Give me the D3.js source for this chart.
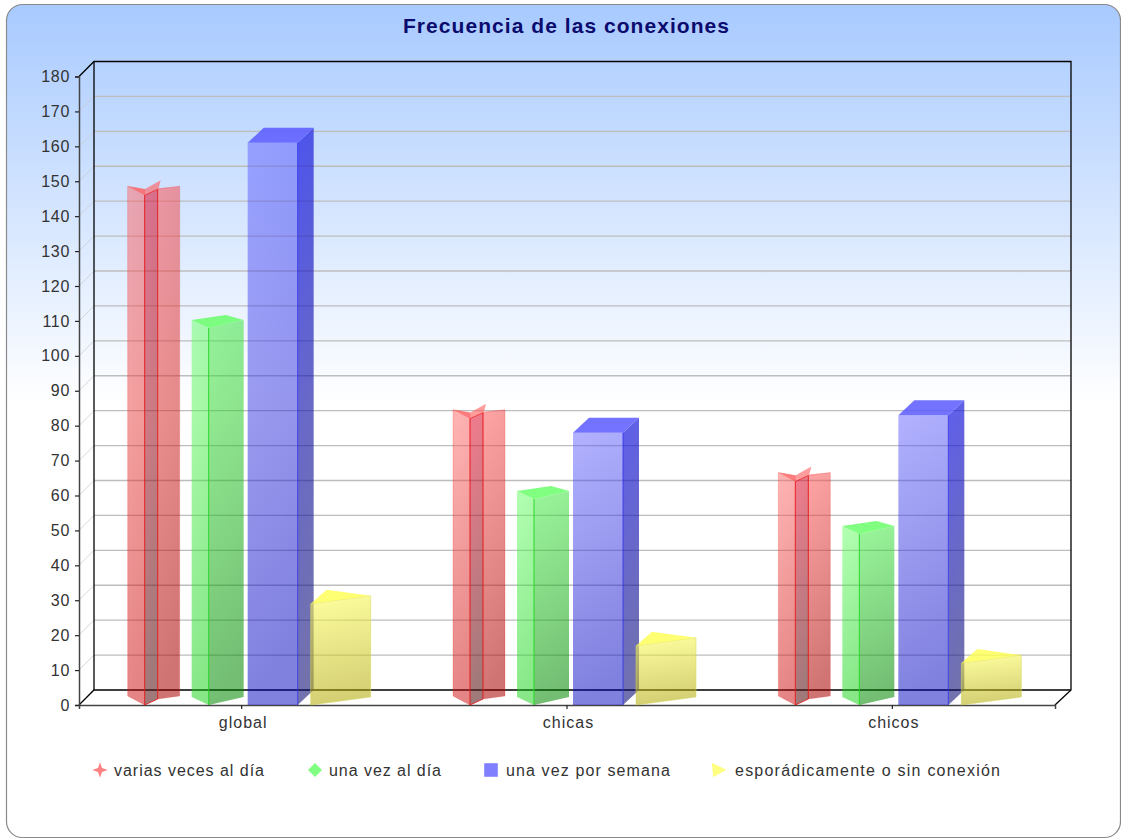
<!DOCTYPE html>
<html><head><meta charset="utf-8">
<script src="https://cdn.jsdelivr.net/npm/d3@7/dist/d3.min.js"></script>
<style>html,body{margin:0;padding:0;background:#fff}svg{display:block}text{font-family:"Liberation Sans",sans-serif}</style>
</head><body><div id="c"></div>
<script>
const categories = ["global", "chicas", "chicos"];
const seriesNames = ["varias veces al día", "una vez al día", "una vez por semana", "esporádicamente o sin conexión"];
const variasVeces = [146, 82, 64];
const unaVezDia = [108, 59, 49];
const unaVezSemana = [161, 78, 83];
const esporadico = [29, 17, 12];
const yTicks = d3.range(0, 181, 10);
const title = "Frecuencia de las conexiones";

const W = 1121, H = 839, DX = 15, DY = -15;
const svg = d3.select("#c").append("svg").attr("width", W).attr("height", H);
const defs = svg.append("defs");

const x = d3.scaleBand().domain(categories).range([79, 1055]);
const y = d3.scaleLinear().domain([0, 180]).range([705, 76.5]);

const bg = defs.append("linearGradient").attr("id", "bg").attr("x1", 0).attr("x2", 0).attr("y1", 0).attr("y2", 1);
bg.append("stop").attr("offset", 0).attr("stop-color", "#a8caff");
bg.append("stop").attr("offset", 0.48).attr("stop-color", "#ffffff");
bg.append("stop").attr("offset", 1).attr("stop-color", "#ffffff");
svg.append("rect").attr("x", 6.5).attr("y", 4.5).attr("width", 1114).attr("height", 833).attr("rx", 16)
  .attr("fill", "url(#bg)").attr("stroke", "#8a8a8a").attr("stroke-width", 1.2);

svg.append("text").attr("x", 403).attr("y", 33).attr("textLength", 326).attr("lengthAdjust", "spacing")
  .attr("font-size", 21).attr("font-weight", "bold").attr("fill", "#0b0b6e").text(title);

// wall
const wall = svg.append("g");
yTicks.slice(1, -1).forEach(t => {
  wall.append("line").attr("x1", x.range()[0]).attr("x2", x.range()[0] + DX).attr("y1", y(t)).attr("y2", y(t) + DY)
    .attr("stroke", "#c8c8c8").attr("stroke-opacity", .7);
  wall.append("line").attr("x1", x.range()[0] + DX).attr("x2", x.range()[1] + DX + 1).attr("y1", y(t) + DY).attr("y2", y(t) + DY)
    .attr("stroke", "#bdbdbd").attr("stroke-width", 1.3);
});
wall.append("path").attr("fill", "none").attr("stroke", "#000").attr("stroke-width", 1.3)
  .attr("d", d3.line()([[79, y(180)], [94, y(180) + DY], [1071, y(180) + DY], [1071, y(0) + DY], [1055, y(0)]]));
wall.append("path").attr("fill", "none").attr("stroke", "#000").attr("stroke-width", 1.3)
  .attr("d", d3.line()([[79, y(0)], [94, y(0) + DY], [1071, y(0) + DY]]));
wall.append("line").attr("x1", 94).attr("x2", 94).attr("y1", y(180) + DY).attr("y2", y(0) + DY).attr("stroke", "#000").attr("stroke-width", 1.3);

// axes
const yAxis = svg.append("g").attr("transform", "translate(79,0)")
  .call(d3.axisLeft(y).tickValues(yTicks).tickSize(4).tickPadding(5));
const xAxis = svg.append("g").attr("transform", "translate(0,705)")
  .call(d3.axisBottom(x).tickSize(4).tickPadding(8));
[yAxis, xAxis].forEach(a => {
  a.selectAll(".domain").attr("stroke", "#444").attr("stroke-width", 1.5);
  a.selectAll(".tick line").attr("stroke", "#222").attr("stroke-width", 1.2);
  a.selectAll("text").attr("font-family", '"Liberation Sans",sans-serif').attr("font-size", 16).attr("fill", "#333").attr("letter-spacing", 0.7);
});
xAxis.selectAll("text").attr("letter-spacing", 1).attr("dx", 1.5);

// gradient helper
function grad(id, c0, a0, c1, a1) {
  const g = defs.append("linearGradient").attr("id", id).attr("x1", 0).attr("y1", 0).attr("x2", 0.12).attr("y2", 1);
  g.append("stop").attr("offset", 0).attr("stop-color", c0).attr("stop-opacity", a0);
  g.append("stop").attr("offset", 1).attr("stop-color", c1).attr("stop-opacity", a1);
  return `url(#${id})`;
}
const fLight = [
  grad("r1", "#ff6a6a", .5, "#cc0a0a", .5), grad("g1", "#66ff66", .5, "#10d010", .5),
  grad("b1", "#6464ff", .5, "#0000be", .5), grad("y1", "#ffff60", .6, "#b0a800", .55)];
const fDark = [
  grad("r2", "#ff5a5a", .55, "#a80000", .55), grad("g2", "#48f048", .55, "#008800", .55),
  grad("b2", "#2020e8", .72, "#141478", .6), grad("y2", "#ffff60", .6, "#a09800", .55)];
const strips = grad("r3", "#e81030", .55, "#602020", .6);
const tops = ["#ff5a5a", "#55ff55", "#5a5aff", "#ffff50"];
const edges = ["#e81818", "#22d822", "#3030e8", "#d8d860"];
const seriesValues = [variasVeces, unaVezDia, unaVezSemana, esporadico];
const offsets = [-114, -50, 6, 69];
const line = d3.line();

const marks = svg.append("g");
function face(g, pts, fill, stroke, opacity) {
  return g.append("path").attr("d", line(pts) + "Z").attr("fill", fill)
    .attr("stroke", stroke || "none").attr("stroke-width", stroke ? 1 : 0).attr("stroke-opacity", opacity == null ? .5 : opacity);
}
function star(g, l, yv, i) {
  const b = y(0);
  const P = (dx, dy, base) => [l + dx, base + dy];
  face(g, [P(0, -9, yv), P(17, -6, yv), P(17, 0, b), P(0, -9, b)], fLight[i], edges[i], .2);
  face(g, [P(30, -6, yv), P(52, -9, yv), P(52, -9, b), P(30, -6, b)], fDark[i], edges[i], .2);
  face(g, [P(17, 0, yv), P(30, -6, yv), P(30, -6, b), P(17, 0, b)], strips, edges[i], .85);
  face(g, [P(0, -9, yv), P(17, -6, yv), P(33, -15, yv), P(31, -7, yv), P(52, -9, yv), P(30, -6, yv), P(17, 0, yv)], tops[i]).attr("fill-opacity", .6);
}
function diamond(g, l, yv, i) {
  const b = y(0);
  face(g, [[l, yv - 8], [l + 17, yv], [l + 17, b], [l, b - 8]], fLight[i]);
  face(g, [[l + 17, yv], [l + 52, yv - 8], [l + 52, b - 8], [l + 17, b]], fDark[i]);
  face(g, [[l, yv - 8], [l + 34, yv - 13], [l + 52, yv - 8], [l + 17, yv]], tops[i]).attr("fill-opacity", .75);
  g.append("line").attr("x1", l + 17).attr("x2", l + 17).attr("y1", yv).attr("y2", b).attr("stroke", edges[i]).attr("stroke-opacity", .95);
}
function box(g, l, yv, i) {
  const b = y(0), w = 50;
  face(g, [[l, yv], [l + w, yv], [l + w, b], [l, b]], fLight[i]);
  face(g, [[l + w, yv], [l + w + 16, yv - 15], [l + w + 16, b - 15], [l + w, b]], fDark[i]);
  face(g, [[l, yv], [l + 16, yv - 15], [l + w + 16, yv - 15], [l + w, yv]], tops[i]).attr("fill-opacity", .85);
  g.append("line").attr("x1", l + w).attr("x2", l + w).attr("y1", yv).attr("y2", b).attr("stroke", edges[i]).attr("stroke-opacity", .8);
}
function tri(g, l, yv, i) {
  const b = y(0);
  face(g, [[l, yv], [l + 60, yv - 8], [l + 60, b - 8], [l, b]], fLight[i], edges[i], .5);
  face(g, [[l, yv], [l + 16, yv - 14], [l + 60, yv - 8]], tops[i]).attr("fill-opacity", .8);
}
const painters = [star, diamond, box, tri];
seriesValues.forEach((vals, i) => {
  vals.forEach((v, j) => {
    const cx = x(categories[j]) + x.bandwidth() / 2;
    painters[i](marks.append("g"), cx + offsets[i], y(v), i);
  });
});

// legend
const legendMarkX = [100, 315, 491, 719], legendTextX = [114, 329, 506, 735], legendTextLen = [150, 112, 164, 265], legendY = 770;
const legendColors = ["#ff8080", "#80ff80", "#8080ff", "#ffff80"];
const sym = [
  d3.symbol().type({ draw(c, s) { const r = Math.sqrt(s) * .92, q = r * .26;
    c.moveTo(0, -r); c.lineTo(q, -q); c.lineTo(r, 0); c.lineTo(q, q); c.lineTo(0, r); c.lineTo(-q, q); c.lineTo(-r, 0); c.lineTo(-q, -q); c.closePath(); } }).size(70),
  d3.symbol().type({ draw(c, s) { const r = Math.sqrt(s) / 1.2; c.moveTo(0, -r); c.lineTo(r, 0); c.lineTo(0, r); c.lineTo(-r, 0); c.closePath(); } }).size(70),
  d3.symbol().type(d3.symbolSquare).size(185),
  d3.symbol().type({ draw(c, s) { const r = Math.sqrt(s) / 1.2; c.moveTo(-r, -r); c.lineTo(r, -r * .05); c.lineTo(-r * .8, r); c.closePath(); } }).size(75)
];
const lg = svg.append("g");
seriesNames.forEach((n, i) => {
  lg.append("path").attr("transform", `translate(${legendMarkX[i]},${legendY})`).attr("d", sym[i]()).attr("fill", legendColors[i]);
  lg.append("text").attr("x", legendTextX[i]).attr("y", legendY + 5.5).attr("font-size", 16)
    .attr("textLength", legendTextLen[i]).attr("lengthAdjust", "spacing").attr("fill", "#333").text(n);
});
</script></body></html>
